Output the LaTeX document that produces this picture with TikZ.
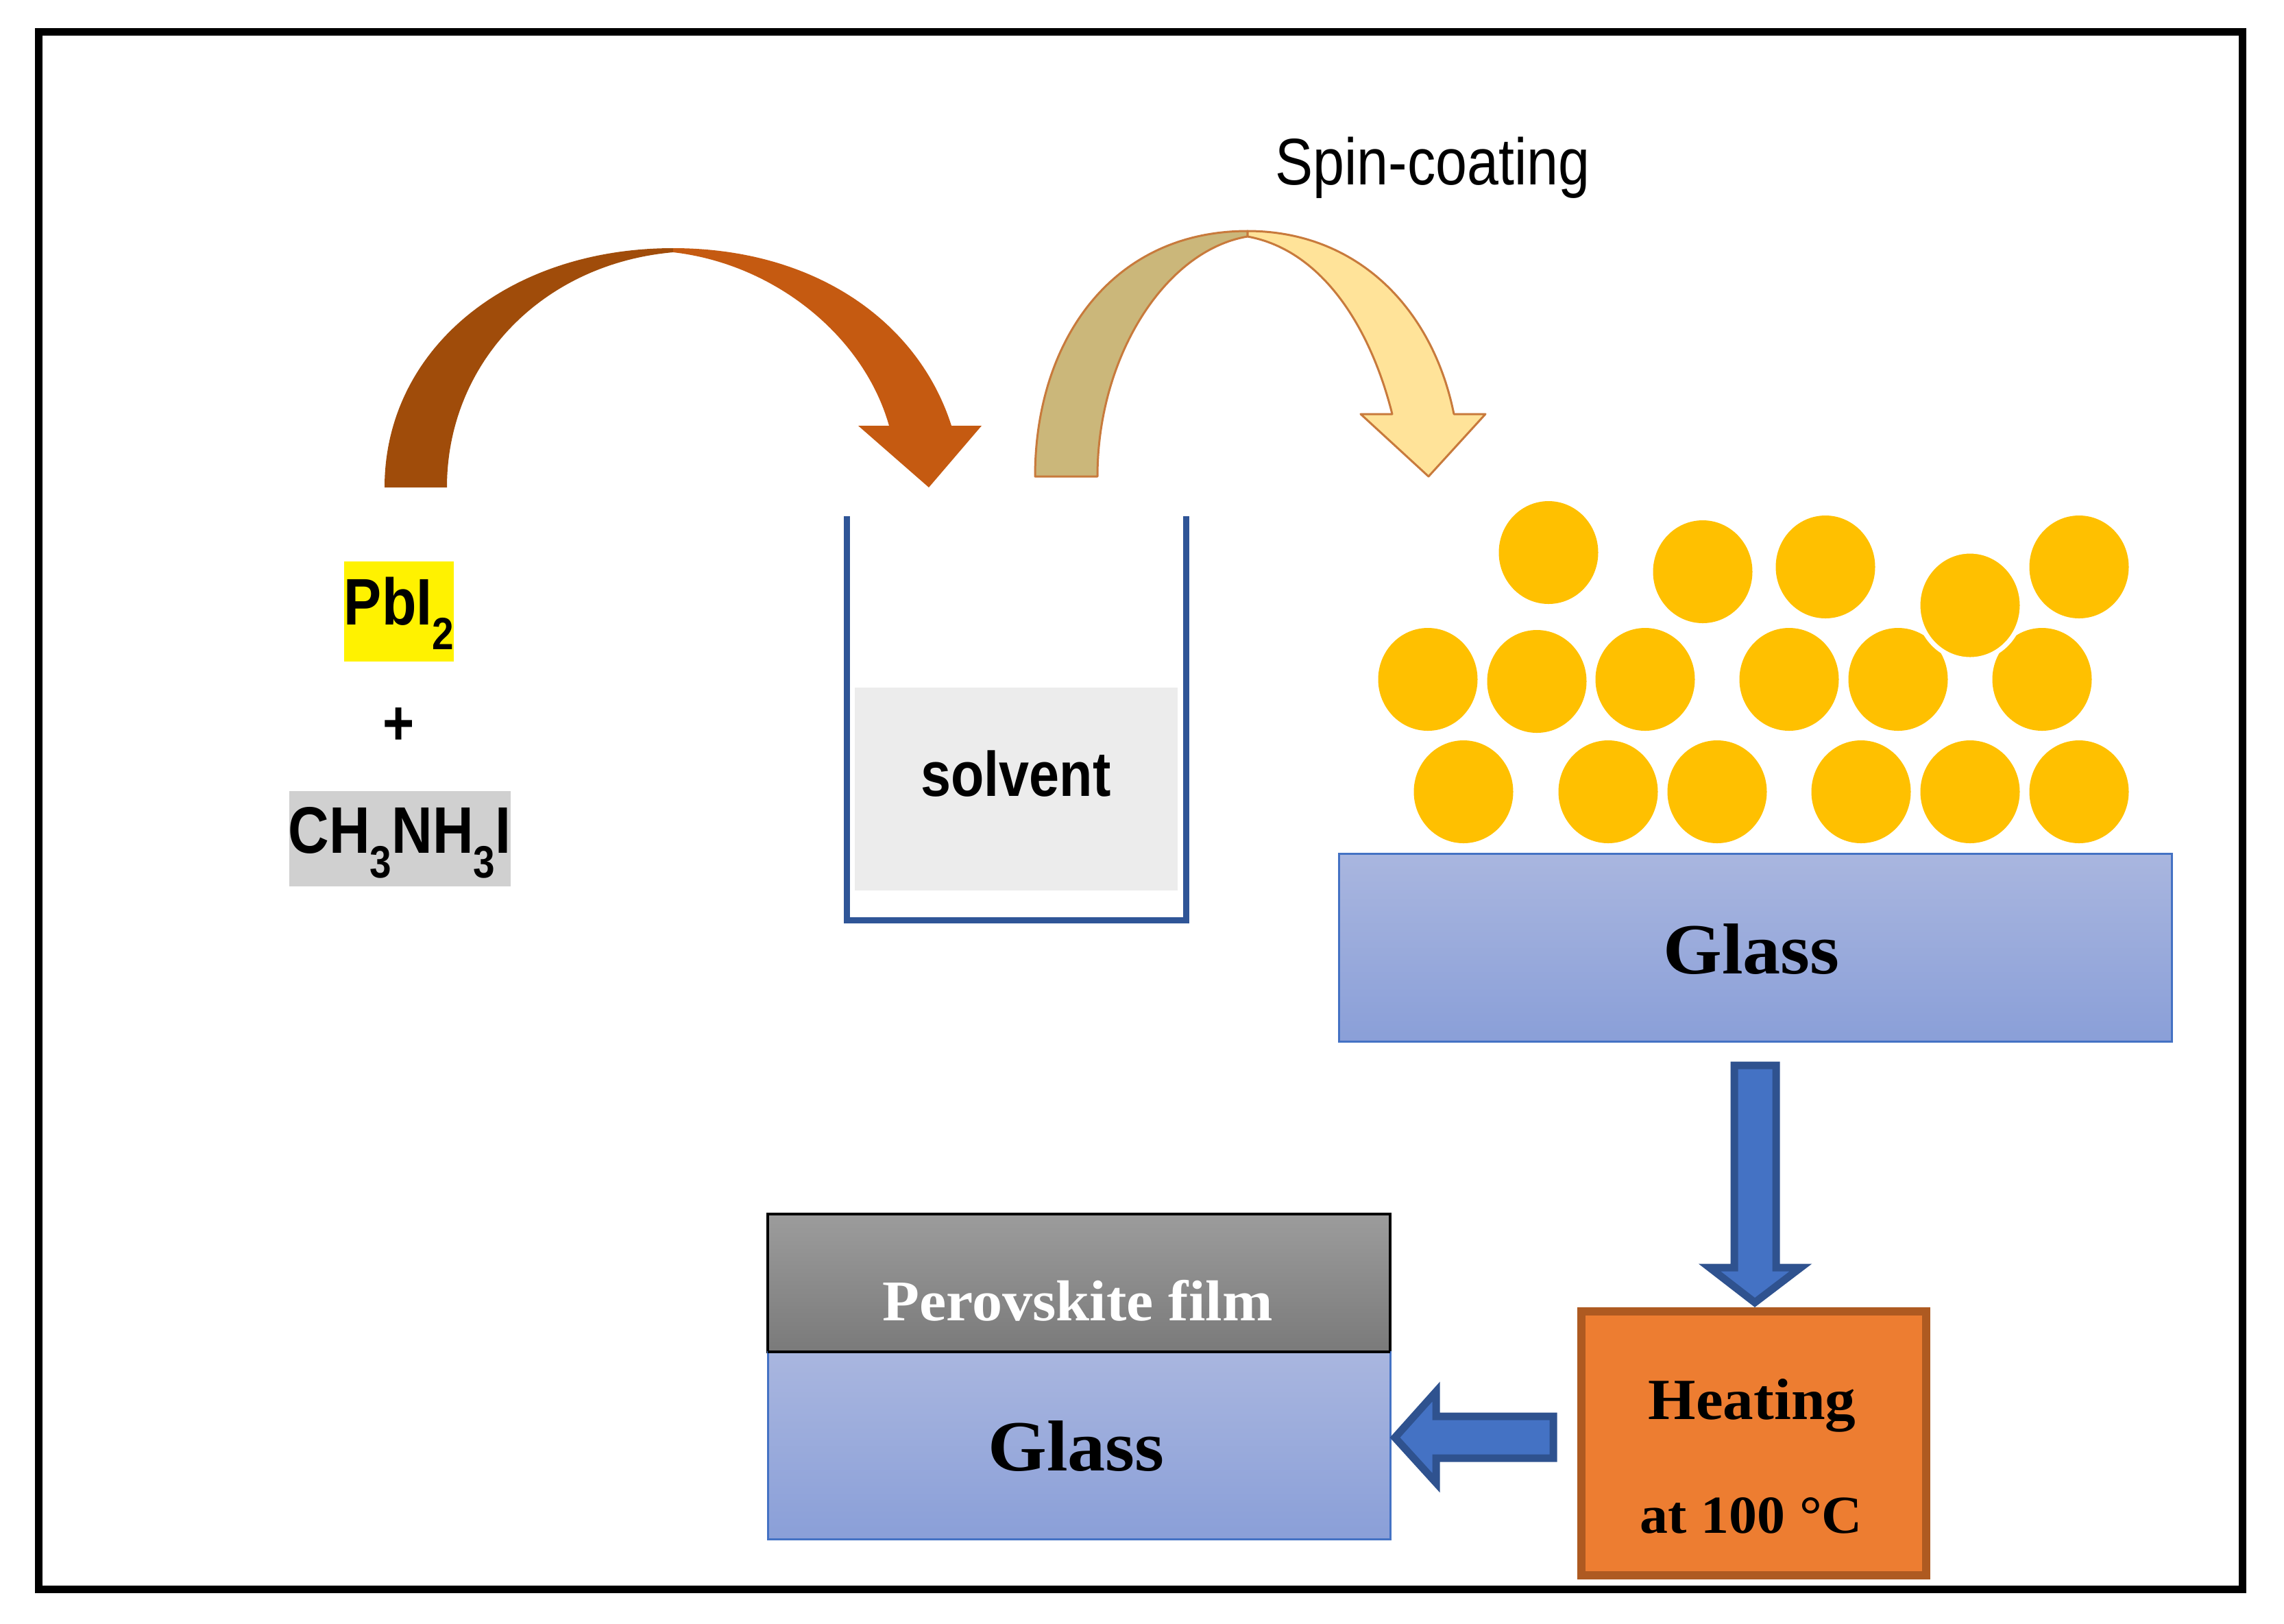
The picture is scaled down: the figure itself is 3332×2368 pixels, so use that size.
\documentclass[tikz,border=0pt]{standalone}
\usepackage{fontspec}
\setmainfont[FakeStretch=1.05]{Liberation Serif}
\newfontfamily\narrowsans[FakeStretch=.86]{Liberation Sans}
\usetikzlibrary{calc}
\definecolor{frameblack}{HTML}{000000}
\definecolor{brownL}{HTML}{A04C0A}
\definecolor{brownR}{HTML}{C55A11}
\definecolor{tanL}{HTML}{CBB77A}
\definecolor{tanR}{HTML}{FFE399}
\definecolor{arrowline}{HTML}{C87A3C}
\definecolor{beakerblue}{HTML}{2F5597}
\definecolor{solventgrey}{HTML}{ECECEC}
\definecolor{methgrey}{HTML}{D0D0D0}
\definecolor{ballgold}{HTML}{FFC000}
\definecolor{glassT}{HTML}{A9B6DF}
\definecolor{glassB}{HTML}{8A9FD8}
\definecolor{glassline}{HTML}{4472C4}
\definecolor{filmT}{HTML}{9C9C9C}
\definecolor{filmB}{HTML}{7A7A7A}
\definecolor{blockfill}{HTML}{4472C4}
\definecolor{blockline}{HTML}{2F528F}
\definecolor{heatfill}{HTML}{ED7D31}
\definecolor{heatline}{HTML}{AE5A21}
% sizes given in reference pixels: 1 px = 0.01 cm = 0.2845 pt
\newcommand{\pxfont}[1]{\fontsize{\fpeval{#1*0.2845}}{\fpeval{#1*0.34}}\selectfont}
\newcommand{\lowered}[1]{\raisebox{-36\pxu}{\pxfont{66}#1}}
\newlength{\pxu}\setlength{\pxu}{0.01cm}
\tikzset{
  x=0.01cm,y=-0.01cm,
  boxnode/.style={rectangle,inner sep=0pt,outer sep=0pt},
  txt/.style={inner sep=0pt,outer sep=0pt,anchor=base},
  ball/.style={ellipse,inner sep=0pt,outer sep=0pt,fill=ballgold,minimum width=145\pxu,minimum height=150\pxu},
  glassbox/.style={boxnode,draw=glassline,line width=3\pxu,top color=glassT,bottom color=glassB,minimum width=#1},
  blockarrow/.style={draw=blockline,fill=blockfill,line width=11\pxu,miter limit=10},
}
\usetikzlibrary{shapes.geometric}
\begin{document}
\begin{tikzpicture}
\useasboundingbox (0,0) rectangle (3332,2368);
\fill[white] (0,0) rectangle (3332,2368);
\node[boxnode,draw=frameblack,line width=11\pxu,minimum width=3215\pxu,minimum height=2272\pxu] (frame) at (1664,1182) {};

% reagents
\node[boxnode,fill=yellow,minimum width=160\pxu,minimum height=146\pxu] (pbbox) at (582,892) {};
\node[txt] (pb) at (582,911) {\narrowsans\bfseries\pxfont{96}PbI\lowered{2}};
\node[txt] (plus) at (582,1086) {\narrowsans\bfseries\pxfont{92}+};
\node[boxnode,fill=methgrey,minimum width=323\pxu,minimum height=139\pxu] (mabox) at (583.5,1223.5) {};
\node[txt] (ma) at (583,1244) {\narrowsans\bfseries\pxfont{96}CH\lowered{3}NH\lowered{3}I};

% brown curved arrow
\fill[brownL] (561,711) .. controls (561,510) and (740,362) .. (982,362)
  -- (982,368) .. controls (790,385) and (652,530) .. (652,711) -- cycle;
\fill[brownR] (982,362) .. controls (965,362) and (960,362) .. (982,362)
  .. controls (1190,362) and (1340,470) .. (1388,621) -- (1432,621) -- (1355,711) -- (1252,621) -- (1297,621)
  .. controls (1260,490) and (1130,385) .. (982,368) -- cycle;

% beaker
\node[boxnode,fill=solventgrey,minimum width=471\pxu,minimum height=296\pxu] (solv) at (1482.5,1151) {};
\node[txt] (solvtxt) at (1482,1161) {\narrowsans\bfseries\pxfont{92}solvent};
\draw[beakerblue,line width=9\pxu] (1235,753) -- (1235,1342) -- (1730,1342) -- (1730,753);

% spin-coating arrow
\draw[arrowline,fill=tanL,line width=3\pxu,line join=round] (1510,695) .. controls (1510,500) and (1620,337) .. (1820,337)
  -- (1820,345) .. controls (1700,365) and (1601,520) .. (1601,695) -- cycle;
\draw[arrowline,fill=tanR,line width=3\pxu,line join=round] (1820,337) .. controls (1980,337) and (2090,450) .. (2121,604)
  -- (2167,604) -- (2084,695) -- (1985,604) -- (2031,604)
  .. controls (2000,480) and (1930,365) .. (1820,345) -- cycle;
\node[txt] (spin) at (2090,269) {\narrowsans\pxfont{96}Spin-coating};

% grains
\foreach \px/\py [count=\i] in {2259/806,2484/834,2663/827,3033/827,
  2083/991,2242/994,2400/991,2610/991,2769/991,2979/991,
  2135/1155,2346/1155,2505/1155,2715/1155,2874/1155,3033/1155}
  {\node[ball] (grain\i) at (\px,\py) {};}
\node[ball,minimum width=152\pxu,minimum height=158\pxu,draw=white,line width=7\pxu] (graintop) at (2874,883) {};

% glass on top of which the grains sit
\node[glassbox=1215\pxu,minimum height=274\pxu] (glassA) at (2560.5,1382) {};
\node[txt] (glassAtxt) at (2555,1420) {\bfseries\pxfont{105}Glass};

% heating
\node[boxnode,draw=heatline,fill=heatfill,line width=12\pxu,minimum width=503\pxu,minimum height=385\pxu] (heat) at (2558.5,2105.5) {};
\node[txt] (heat1) at (2556,2070) {\bfseries\pxfont{85}Heating};
\node[txt] (heat2) at (2555,2236) {\bfseries\pxfont{78}at 100 °C};

% film stack
\node[boxnode,draw=frameblack,line width=4\pxu,top color=filmT,bottom color=filmB,minimum width=908\pxu,minimum height=201\pxu] (film) at (1574,1871.5) {};
\node[glassbox=908\pxu,minimum height=273\pxu] (glassB) at (1574,2108.5) {};
\draw[frameblack,line width=4\pxu] (film.south west) -- (film.south east);
\node[txt] (filmtxt) at (1572,1926) {\color{white}\bfseries\pxfont{84}Perovskite film};
\node[txt] (glassBtxt) at (1570,2145) {\bfseries\pxfont{105}Glass};

% block arrows
\coordinate (downstart) at (glassA.south -| 2560,0);
\draw[blockarrow] ($(heat.north)+(1.5,-13)$) -- ++(-66,-51) -- ++(36,0) -- ++(0,-295) -- ++(61,0) -- ++(0,295) -- ++(36,0) -- cycle;
\draw[blockarrow] ($(glassB.east)+(7,-11.5)$) -- ++(60,-67) -- ++(0,36) -- ++(171,0) -- ++(0,61) -- ++(-171,0) -- ++(0,36) -- cycle;
\end{tikzpicture}
\end{document}
